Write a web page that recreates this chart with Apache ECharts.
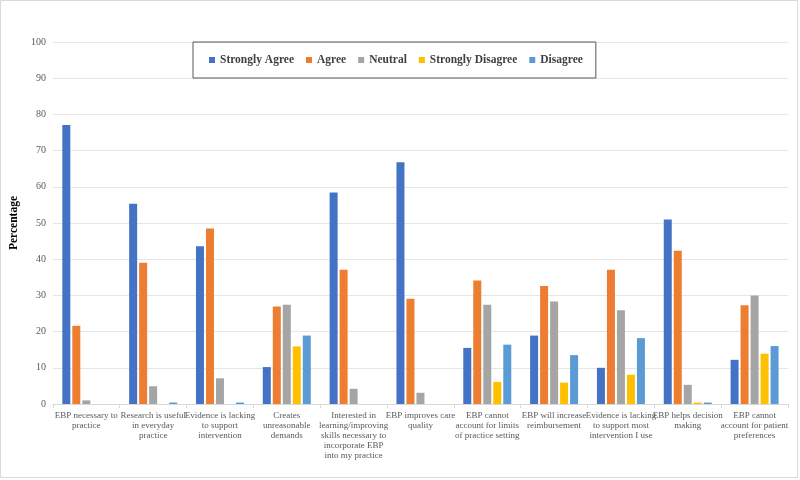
<!DOCTYPE html>
<html><head><meta charset="utf-8">
<script src="https://cdn.jsdelivr.net/npm/echarts@6/dist/echarts.min.js"></script>
<style>html,body{margin:0;padding:0;background:#fff}#c{width:800px;height:480px}</style>
</head><body><div id="c"></div>
<script>
const categories = [
  "EBP necessary to\npractice",
  "Research is useful\nin everyday\npractice",
  "Evidence is lacking\nto support\nintervention",
  "Creates\nunreasonable\ndemands",
  "Interested in\nlearning/improving\nskills necessary to\nincorporate EBP\ninto my practice",
  "EBP improves care\nquality",
  "EBP cannot\naccount for limits\nof practice setting",
  "EBP will increase\nreimbursement",
  "Evidence is lacking\nto support most\nintervention I use",
  "EBP helps decision\nmaking",
  "EBP cannot\naccount for patient\npreferences"
];
const seriesNames = ["Strongly Agree", "Agree", "Neutral", "Strongly Disagree", "Disagree"];
const stronglyAgree    = [77.1, 55.3, 43.6, 10.2, 58.4, 66.8, 15.5, 18.9, 10.0, 51.0, 12.2];
const agree            = [21.6, 39.0, 48.5, 26.9, 37.1, 29.1, 34.1, 32.6, 37.1, 42.3, 27.3];
const neutral          = [1.0, 4.9, 7.1, 27.4, 4.2, 3.1, 27.4, 28.3, 25.9, 5.3, 30.0];
const stronglyDisagree = [0, 0, 0, 15.9, 0, 0, 6.1, 5.9, 8.1, 0.4, 13.9];
const disagree         = [0, 0.4, 0.4, 18.9, 0, 0, 16.4, 13.5, 18.2, 0.4, 16.0];
const colors = ["#4472C4", "#ED7D31", "#A5A5A5", "#FFC000", "#5B9BD5"];
const allData = [stronglyAgree, agree, neutral, stronglyDisagree, disagree];

const font = "'Liberation Serif', 'Times New Roman', serif";
const chart = echarts.init(document.getElementById('c'));
chart.setOption({
  animation: false,
  color: colors,
  graphic: [{
    type: 'rect', shape: {x: 0.5, y: 0.5, width: 797, height: 477},
    style: {fill: 'none', stroke: '#d9d9d9', lineWidth: 1}, silent: true
  }],
  legend: {
    left: 193, top: 42,
    padding: [12, 13, 12, 16],
    borderColor: '#595959', borderWidth: 1,
    itemWidth: 6, itemHeight: 6, itemGap: 12,
    icon: 'rect',
    textStyle: {fontFamily: font, fontWeight: 'bold', fontSize: 11.5, color: '#404040'},
    data: seriesNames
  },
  grid: {left: 48, right: 12, top: 42, bottom: 76},
  xAxis: {
    type: 'category', data: categories,
    axisLine: {lineStyle: {color: '#d9d9d9'}},
    axisTick: {show: true, length: 4, lineStyle: {color: '#d9d9d9'}},
    axisLabel: {interval: 0, fontFamily: font, fontSize: 9, color: '#595959', lineHeight: 10, margin: 7}
  },
  yAxis: {
    type: 'value', min: 0, max: 100, interval: 10,
    name: 'Percentage', nameLocation: 'middle', nameGap: 25,
    nameTextStyle: {fontFamily: font, fontWeight: 'bold', fontSize: 11.5, color: '#000'},
    axisLine: {show: false}, axisTick: {show: false},
    splitLine: {lineStyle: {color: '#e6e6e6'}},
    axisLabel: {fontFamily: font, fontSize: 10, color: '#595959', margin: 7}
  },
  series: seriesNames.map((n, i) => ({
    name: n, type: 'bar', data: allData[i],
    barWidth: 8, barGap: '25%',
    itemStyle: {color: colors[i]}
  }))
});
</script></body></html>
